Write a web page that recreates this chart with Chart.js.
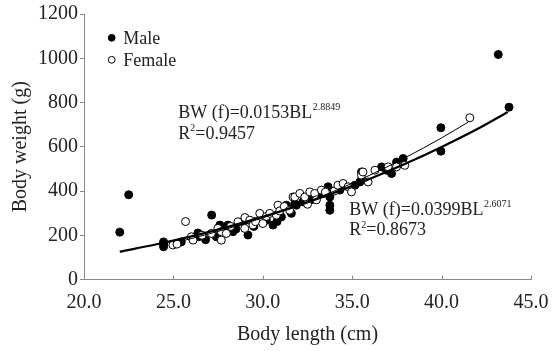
<!DOCTYPE html>
<html><head><meta charset="utf-8">
<script src="https://cdn.jsdelivr.net/npm/chart.js@4.4.0/dist/chart.umd.min.js"></script>
<style>html,body{margin:0;padding:0;background:#fff;}</style>
</head><body>
<canvas id="c" width="552" height="351"></canvas>
<script>
// ---- data ----
const maleX = [22.0,22.5,24.45,24.45,24.45,25.44,26.37,26.4,26.8,27.14,27.4,27.6,27.96,28.05,28.33,28.5,28.89,29.17,29.5,30.2,30.57,30.8,31.04,31.32,31.6,31.79,31.88,32.25,32.7,33.0,33.37,33.65,33.75,33.75,33.75,34.31,35.15,35.43,35.52,35.52,36.64,36.92,37.2,37.48,37.85,39.96,39.96,43.17,43.77];
const maleY = [214,383,170,160,148,170,210,193,180,291,193,246,223,246,216,228,261,201,240,268,246,262,283,336,299,344,336,351,360,373,389,419,373,336,313,404,426,441,486,449,509,494,479,531,547,686,580,1017,779];
const femaleX = [24.97,25.2,25.68,26.0,26.1,26.6,27.12,27.49,27.68,27.68,27.96,28.2,28.61,28.99,29.0,29.27,29.45,29.6,29.83,30.0,30.2,30.39,30.76,30.85,30.95,31.2,31.5,31.69,31.79,32.07,32.35,32.5,32.63,32.9,33.0,33.28,33.5,34.0,34.2,34.49,34.77,34.96,35.52,35.6,35.89,36.27,37.01,37.48,37.94,41.58];
const femaleY = [156,160,262,193,178,200,208,231,178,216,208,240,261,231,280,268,246,262,299,253,285,299,291,336,310,330,313,373,373,389,373,340,396,389,360,404,395,400,426,434,419,396,471,486,441,494,509,509,516,731];
// fitted curves
const maleFitX = [22,24,26,28,30,32,34,36,38,40,42,43.7];
const maleFitY = [126,158,195,237,283,335,392,455,524,599,680,757];
const femaleFitX = [25.5,26,28,30,32,34,36,38,40,41.5];
const femaleFitY = [175,185,229,279,336,400,472,552,640,712];
const xTicks = [20,25,30,35,40,45];
const yTicks = [0,200,400,600,800,1000,1200];
const seriesNames = ['Male','Female'];
const eqFemale = {base:'BW (f)=0.0153BL', exp:'2.8849', r2:'=0.9457'};
const eqMale = {base:'BW (f)=0.0399BL', exp:'2.6071', r2:'=0.8673'};

const FONT = 'Liberation Serif, Times New Roman, serif';
const TXT = '#222';
const AX = '#888';
const pts = (xs, ys) => xs.map((x,i)=>({x, y: ys[i]}));

const inwardTicks = {
  id:'inwardTicks',
  afterDraw(chart){
    const s = chart.scales.x, ca = chart.chartArea, ctx = chart.ctx;
    ctx.save(); ctx.strokeStyle = AX; ctx.lineWidth = 1;
    xTicks.forEach(v=>{
      const px = Math.round(s.getPixelForValue(v)) + 0.5;
      ctx.beginPath(); ctx.moveTo(px, ca.bottom); ctx.lineTo(px, ca.bottom - 4); ctx.stroke();
    });
    ctx.restore();
  }
};

const legendInside = {
  id:'legendInside',
  afterDraw(chart){
    const ctx = chart.ctx, ca = chart.chartArea;
    ctx.save();
    ctx.font = '18px ' + FONT; ctx.textBaseline = 'middle'; ctx.fillStyle = TXT;
    seriesNames.forEach((name,i)=>{
      const ds = chart.data.datasets[i];
      const cx = ca.left + 27.7, cy = ca.top + 23.8 + i*22;
      ctx.beginPath(); ctx.arc(cx, cy, 3.4, 0, Math.PI*2);
      ctx.fillStyle = ds.pointBackgroundColor; ctx.fill();
      ctx.strokeStyle = ds.pointBorderColor; ctx.lineWidth = 1; ctx.stroke();
      ctx.fillStyle = TXT; ctx.fillText(name, cx + 11.6, cy + 1);
    });
    ctx.restore();
  }
};

function drawEq(ctx, x, y, eq){
  ctx.font = '18px ' + FONT; ctx.textBaseline = 'middle'; ctx.fillStyle = TXT;
  ctx.fillText(eq.base, x, y);
  const w = ctx.measureText(eq.base).width;
  ctx.font = '10px ' + FONT;
  ctx.fillText(eq.exp, x + w + 0.5, y - 6);
  const y2 = y + 20.5;
  ctx.font = '18px ' + FONT;
  ctx.fillText('R', x, y2);
  const wr = ctx.measureText('R').width;
  ctx.font = '10px ' + FONT;
  ctx.fillText('2', x + wr, y2 - 5);
  const w2 = ctx.measureText('2').width;
  ctx.font = '18px ' + FONT;
  ctx.fillText(eq.r2, x + wr + w2, y2);
}
const equations = {
  id:'equations',
  afterDraw(chart){
    const sx = chart.scales.x, sy = chart.scales.y, ctx = chart.ctx;
    ctx.save();
    drawEq(ctx, sx.getPixelForValue(25.27), sy.getPixelForValue(751), eqFemale);
    drawEq(ctx, sx.getPixelForValue(34.84), sy.getPixelForValue(313), eqMale);
    ctx.restore();
  }
};

new Chart(document.getElementById('c'), {
  type:'scatter',
  data:{
    datasets:[
      {label:seriesNames[0], data:pts(maleX,maleY), pointRadius:4, pointBackgroundColor:'#000', pointBorderColor:'#000', pointBorderWidth:1, order:3},
      {label:seriesNames[1], data:pts(femaleX,femaleY), pointRadius:4, pointBackgroundColor:'#fff', pointBorderColor:'#000', pointBorderWidth:1, order:2},
      {type:'line', label:'male fit', data:pts(maleFitX,maleFitY), borderColor:'#000', borderWidth:2.2, pointRadius:0, cubicInterpolationMode:'monotone', fill:false, order:0},
      {type:'line', label:'female fit', data:pts(femaleFitX,femaleFitY), borderColor:'#000', borderWidth:1, pointRadius:0, cubicInterpolationMode:'monotone', fill:false, order:1}
    ]
  },
  options:{
    responsive:false, animation:false, devicePixelRatio:1,
    layout:{padding:{top:13.5, right:21, bottom:0, left:0}},
    plugins:{legend:{display:false}, tooltip:{enabled:false}},
    scales:{
      x:{type:'linear', min:20, max:45,
        afterFit(s){ s.height = 71.5; },
        afterBuildTicks(s){ s.ticks = xTicks.map(v=>({value:v})); },
        ticks:{callback:v=>Number(v).toFixed(1), font:{family:FONT, size:20}, color:TXT, padding:3, maxRotation:0},
        grid:{display:false},
        border:{display:true, color:AX, width:1},
        title:{display:true, text:'Body length (cm)', font:{family:FONT, size:20}, color:TXT, padding:{top:0,bottom:4}}
      },
      y:{type:'linear', min:0, max:1200,
        afterFit(s){ s.width = 84; },
        afterBuildTicks(s){ s.ticks = yTicks.map(v=>({value:v})); },
        ticks:{callback:v=>String(v), font:{family:FONT, size:20}, color:TXT, padding:2},
        grid:{display:true, drawOnChartArea:false, drawTicks:true, tickLength:4, color:AX},
        border:{display:true, color:AX, width:1},
        title:{display:true, text:'Body weight (g)', font:{family:FONT, size:20}, color:TXT, padding:{top:9,bottom:0}}
      }
    }
  },
  plugins:[inwardTicks, legendInside, equations]
});
</script>
</body></html>
